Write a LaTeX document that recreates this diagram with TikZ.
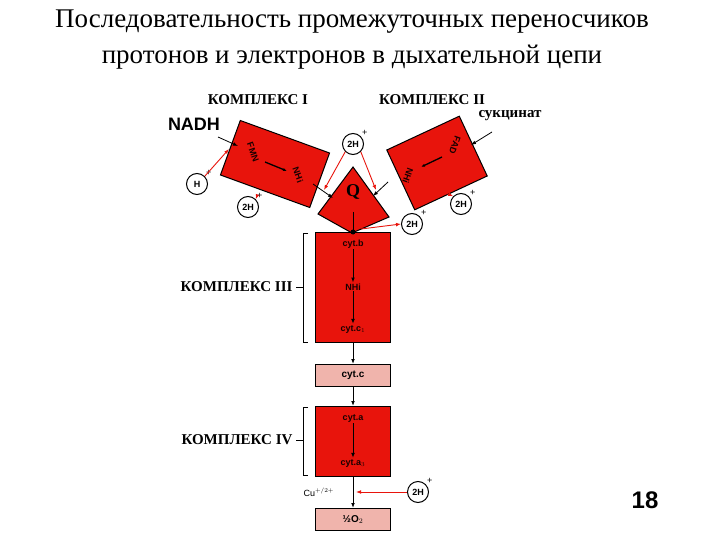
\documentclass[tikz,border=0pt]{standalone}
\usepackage{fontspec}
\setmainfont{Liberation Serif}
\setsansfont{Liberation Sans}
\usetikzlibrary{arrows.meta}
\definecolor{cred}{HTML}{E8140C}
\definecolor{cpink}{HTML}{F0B4AC}
\begin{document}
\begin{tikzpicture}[x=1pt,y=-1pt,
  cbox/.style={draw=black,fill=cred,line width=1pt,minimum width=75pt,inner sep=0pt},
  pbox/.style={draw=black,fill=cpink,line width=1pt,minimum width=75pt,minimum height=22pt,inner sep=0pt,font=\sffamily\bfseries\fontsize{10}{10}\selectfont},
  lab/.style={font=\bfseries\fontsize{15}{15}\selectfont},
  itxt/.style={font=\sffamily\bfseries\fontsize{9}{9}\selectfont,text=black!90!red,inner sep=1pt},
  hc/.style={circle,draw=black,line width=1pt,fill=white,minimum size=21pt,inner sep=0pt,font=\sffamily\bfseries\fontsize{9}{9}\selectfont},
  ba/.style={-{Latex[length=5pt]},line width=1pt},
  ra/.style={-{Latex[length=5pt]},line width=0.9pt,draw=cred}]
\useasboundingbox (0,0) rectangle (720,540);
\node (t1) at (352,22) {\fontsize{27}{27}\selectfont Последовательность промежуточных переносчиков};
\node (t2) at (352,57) {\fontsize{27}{27}\selectfont протонов и электронов в дыхательной цепи};
% complex I and II
\node[cbox,minimum width=95pt,minimum height=58pt,rotate=-20] (k1) at (275,164) {};
\node[cbox,minimum width=80pt,minimum height=66pt,rotate=25] (k2) at (437,163) {};
\node[itxt,rotate=-70] (fmn) at (253,152) {FMN};
\node[itxt,rotate=-70] (nh1) at (298,175) {NHi};
\draw[line width=1.3pt,-{Latex[length=4pt]}] (265,162) -- (287,171);
\node[itxt,rotate=-110] (fad) at (455,145) {FAD};
\node[itxt,rotate=-110] (nh2) at (408,176) {NHi};
\draw[line width=1.3pt,-{Latex[length=4pt]}] (442,157) -- (421,167);
% Q
\draw[cbox] (353,167) -- (389,217) -- (352,233) -- (318,214) -- cycle;
\node (q) at (353,192) {\fontsize{18}{18}\selectfont\bfseries Q};
% complex III
\node[cbox,minimum height=110pt,anchor=north] (k3) at (353,232) {};
\node[itxt] (cb) at (353,244) {cyt.b};
\node[itxt] (nh3) at (353,287) {NHi};
\node[itxt] (cc1) at (353,329) {cyt.c$_1$};
\draw[ba] (cb) -- (nh3);
\draw[ba] (nh3) -- (cc1);
\node[pbox,anchor=north] (cc) at (353,364) {cyt.c};
\node[cbox,minimum height=70pt,anchor=north] (k4) at (353,406) {};
\node[itxt] (ca) at (353,418) {cyt.a};
\node[itxt] (ca3) at (353,463) {cyt.a$_3$};
\draw[ba] (ca) -- (ca3);
\node[pbox,anchor=north] (o2) at (353,508) {½O$_2$};
\draw[ba] (k3.south) -- (cc.north);
\draw[ba] (cc.south) -- (k4.north);
\draw[ba] (k4.south) -- (o2.north);
\draw[line width=1pt] (353,212) -- (k3.north);
\fill (k3.north) circle (2.5pt);
% labels
\node[lab] (l1) at (258,100) {КОМПЛЕКС I};
\node[lab] (l2) at (432,100) {КОМПЛЕКС II};
\node[font=\sffamily\bfseries\fontsize{18}{18}\selectfont] (nadh) at (194,124) {NADH};
\node[font=\bfseries\fontsize{15}{15}\selectfont] (suc) at (510,116) {сукцинат};
\node[lab,anchor=east] (l3) at (296,287) {КОМПЛЕКС III};
\node[lab,anchor=east] (l4) at (296,440) {КОМПЛЕКС IV};
\draw[line width=1pt] (308,233) -- (303,233) -- (303,342) -- (308,342) (303,287) -- (296,287);
\draw[line width=1pt] (308,407) -- (303,407) -- (303,475) -- (308,475) (303,440) -- (296,440);
\node[font=\sffamily\fontsize{9}{9}\selectfont,anchor=west] (cu) at (300,492) {Cu$^{+/2+}$};
\node[font=\sffamily\bfseries\fontsize{24}{24}\selectfont] (n18) at (645,500) {18};
% circles
\node[hc] (h1) at (197,184) {H};
\node[hc] (h2) at (248,207) {2H};
\node[hc] (h3) at (353,144) {2H};
\node[hc] (h4) at (461,204) {2H};
\node[hc] (h5) at (412,224) {2H};
\node[hc] (h6) at (418,492) {2H};
\foreach \c in {h1,h2,h3,h4,h5,h6} \node[font=\sffamily\fontsize{9}{9}\selectfont] at ([shift={(4,-3)}]\c.north east) {+};
% arrows
\coordinate (na) at (218,137);
\draw[ba,line width=0.8pt] (na) -- (238,146);
\draw[ra] (h1.north east) -- (229,149);
\draw[ra] (257,196) -- (h2.north east);
\draw[ra] (h3.south west) -- (324,190);
\draw[ra] (h3.south east) -- (376,190);
\draw[ba,line width=0.8pt] (313,184) -- (333,198);
\draw[ba,line width=0.8pt] (388,182) -- (373,196);
\coordinate (sa) at (492,132);
\draw[ba,line width=0.8pt] (sa) -- (471,145);
\draw[ra] (443,192) -- (h4.north west);
\draw[ra] (361,229) -- (h5.west);
\draw[ra] (h6.west) -- (356,492);
\end{tikzpicture}
\end{document}
